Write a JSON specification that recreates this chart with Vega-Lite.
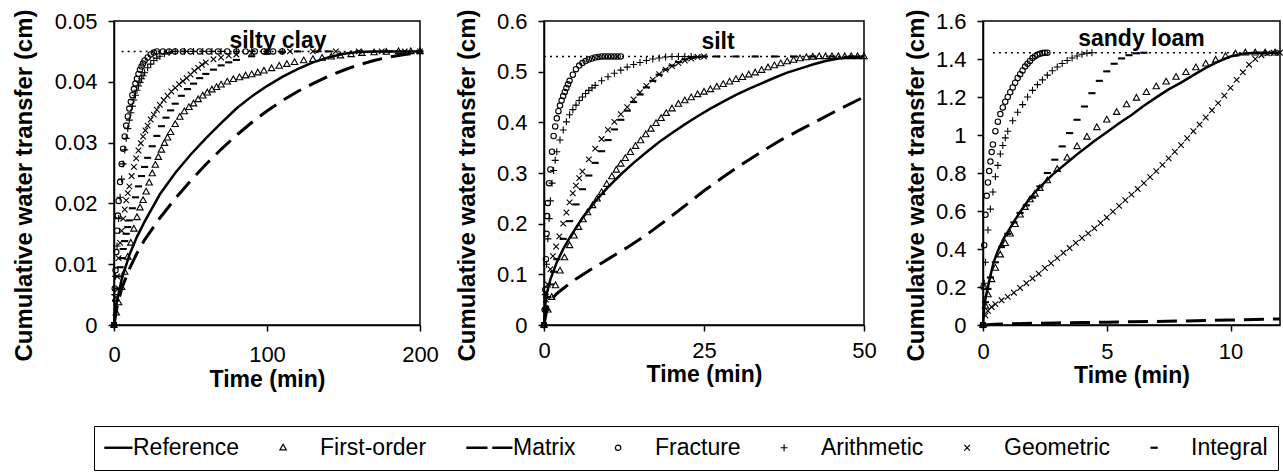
{
"$schema": "https://vega.github.io/schema/vega-lite/v6.json",
"background": "white",
"padding": {"left": 11, "top": 8, "right": 0, "bottom": 0},
"autosize": {"type": "pad"},
"datasets": {
"silty_clay": [
{"series":"Maximum","t":5,"v":0.045},{"series":"Maximum","t":200,"v":0.045},
{"series":"Reference","t":0,"v":0},{"series":"Reference","t":1,"v":0.0028},{"series":"Reference","t":2,"v":0.004},{"series":"Reference","t":5,"v":0.0075},{"series":"Reference","t":10,"v":0.0115},{"series":"Reference","t":15,"v":0.0145},{"series":"Reference","t":20,"v":0.017},{"series":"Reference","t":30,"v":0.0215},{"series":"Reference","t":40,"v":0.025},{"series":"Reference","t":50,"v":0.028},{"series":"Reference","t":60,"v":0.0307},{"series":"Reference","t":70,"v":0.0332},{"series":"Reference","t":80,"v":0.0356},{"series":"Reference","t":90,"v":0.0376},{"series":"Reference","t":100,"v":0.0393},{"series":"Reference","t":110,"v":0.0408},{"series":"Reference","t":120,"v":0.0421},{"series":"Reference","t":130,"v":0.0432},{"series":"Reference","t":140,"v":0.044},{"series":"Reference","t":150,"v":0.0446},{"series":"Reference","t":160,"v":0.0449},{"series":"Reference","t":170,"v":0.045},{"series":"Reference","t":200,"v":0.045},
{"series":"Matrix","t":0,"v":0},{"series":"Matrix","t":2,"v":0.003},{"series":"Matrix","t":5,"v":0.006},{"series":"Matrix","t":10,"v":0.0092},{"series":"Matrix","t":15,"v":0.0118},{"series":"Matrix","t":20,"v":0.014},{"series":"Matrix","t":30,"v":0.0176},{"series":"Matrix","t":40,"v":0.0208},{"series":"Matrix","t":50,"v":0.0237},{"series":"Matrix","t":60,"v":0.0264},{"series":"Matrix","t":70,"v":0.0289},{"series":"Matrix","t":80,"v":0.0312},{"series":"Matrix","t":90,"v":0.0333},{"series":"Matrix","t":100,"v":0.0352},{"series":"Matrix","t":110,"v":0.0369},{"series":"Matrix","t":120,"v":0.0384},{"series":"Matrix","t":130,"v":0.0397},{"series":"Matrix","t":140,"v":0.0409},{"series":"Matrix","t":150,"v":0.0419},{"series":"Matrix","t":160,"v":0.0428},{"series":"Matrix","t":170,"v":0.0435},{"series":"Matrix","t":180,"v":0.0441},{"series":"Matrix","t":190,"v":0.0445},{"series":"Matrix","t":200,"v":0.0448},
{"series":"First-order","t":0,"v":0},{"series":"First-order","t":1.5,"v":0.002},{"series":"First-order","t":3,"v":0.0037},{"series":"First-order","t":5,"v":0.0062},{"series":"First-order","t":7,"v":0.0087},{"series":"First-order","t":9,"v":0.0112},{"series":"First-order","t":11,"v":0.0135},{"series":"First-order","t":13,"v":0.0158},{"series":"First-order","t":15,"v":0.0177},{"series":"First-order","t":17,"v":0.0193},{"series":"First-order","t":19,"v":0.0205},{"series":"First-order","t":21,"v":0.0219},{"series":"First-order","t":23,"v":0.0234},{"series":"First-order","t":25,"v":0.0249},{"series":"First-order","t":27,"v":0.0263},{"series":"First-order","t":29,"v":0.0276},{"series":"First-order","t":31,"v":0.0288},{"series":"First-order","t":33,"v":0.0299},{"series":"First-order","t":35,"v":0.0308},{"series":"First-order","t":37,"v":0.0317},{"series":"First-order","t":40,"v":0.033},{"series":"First-order","t":43,"v":0.0342},{"series":"First-order","t":46,"v":0.0351},{"series":"First-order","t":49,"v":0.0358},{"series":"First-order","t":52,"v":0.0364},{"series":"First-order","t":55,"v":0.0371},{"series":"First-order","t":58,"v":0.0377},{"series":"First-order","t":61,"v":0.0382},{"series":"First-order","t":64,"v":0.0387},{"series":"First-order","t":67,"v":0.0391},{"series":"First-order","t":70,"v":0.0395},{"series":"First-order","t":74,"v":0.04},{"series":"First-order","t":78,"v":0.0404},{"series":"First-order","t":82,"v":0.0407},{"series":"First-order","t":86,"v":0.041},{"series":"First-order","t":90,"v":0.0412},{"series":"First-order","t":94,"v":0.0415},{"series":"First-order","t":98,"v":0.0418},{"series":"First-order","t":103,"v":0.0422},{"series":"First-order","t":108,"v":0.0426},{"series":"First-order","t":113,"v":0.0429},{"series":"First-order","t":118,"v":0.0432},{"series":"First-order","t":124,"v":0.0435},{"series":"First-order","t":130,"v":0.0437},{"series":"First-order","t":136,"v":0.0439},{"series":"First-order","t":142,"v":0.0441},{"series":"First-order","t":148,"v":0.0443},{"series":"First-order","t":155,"v":0.0445},{"series":"First-order","t":162,"v":0.0447},{"series":"First-order","t":170,"v":0.0448},{"series":"First-order","t":178,"v":0.0449},{"series":"First-order","t":186,"v":0.045},{"series":"First-order","t":194,"v":0.045},{"series":"First-order","t":200,"v":0.045},
{"series":"Fracture","t":0,"v":0},{"series":"Fracture","t":0.5,"v":0.006},{"series":"Fracture","t":1,"v":0.009},{"series":"Fracture","t":1.5,"v":0.012},{"series":"Fracture","t":2,"v":0.0155},{"series":"Fracture","t":2.5,"v":0.018},{"series":"Fracture","t":3,"v":0.0204},{"series":"Fracture","t":4,"v":0.0235},{"series":"Fracture","t":5,"v":0.0265},{"series":"Fracture","t":6,"v":0.029},{"series":"Fracture","t":7,"v":0.031},{"series":"Fracture","t":8,"v":0.0328},{"series":"Fracture","t":9,"v":0.0343},{"series":"Fracture","t":10,"v":0.0356},{"series":"Fracture","t":11,"v":0.0367},{"series":"Fracture","t":12,"v":0.0378},{"series":"Fracture","t":13,"v":0.0388},{"series":"Fracture","t":14,"v":0.0397},{"series":"Fracture","t":15,"v":0.0405},{"series":"Fracture","t":16,"v":0.0413},{"series":"Fracture","t":17,"v":0.042},{"series":"Fracture","t":18,"v":0.0425},{"series":"Fracture","t":19,"v":0.043},{"series":"Fracture","t":20,"v":0.0435},{"series":"Fracture","t":22,"v":0.044},{"series":"Fracture","t":24,"v":0.0445},{"series":"Fracture","t":26,"v":0.0448},{"series":"Fracture","t":28,"v":0.045},{"series":"Fracture","t":32,"v":0.045},{"series":"Fracture","t":36,"v":0.045},{"series":"Fracture","t":40,"v":0.045},{"series":"Fracture","t":45,"v":0.045},{"series":"Fracture","t":50,"v":0.045},{"series":"Fracture","t":56,"v":0.045},{"series":"Fracture","t":62,"v":0.045},{"series":"Fracture","t":68,"v":0.045},{"series":"Fracture","t":74,"v":0.045},{"series":"Fracture","t":80,"v":0.045},{"series":"Fracture","t":86,"v":0.045},{"series":"Fracture","t":92,"v":0.045},{"series":"Fracture","t":98,"v":0.045},{"series":"Fracture","t":104,"v":0.045},{"series":"Fracture","t":110,"v":0.045},
{"series":"Arithmetic","t":0,"v":0},{"series":"Arithmetic","t":0.5,"v":0.005},{"series":"Arithmetic","t":1,"v":0.008},{"series":"Arithmetic","t":2,"v":0.013},{"series":"Arithmetic","t":3,"v":0.0175},{"series":"Arithmetic","t":4,"v":0.021},{"series":"Arithmetic","t":5,"v":0.024},{"series":"Arithmetic","t":6,"v":0.0265},{"series":"Arithmetic","t":7,"v":0.0288},{"series":"Arithmetic","t":8,"v":0.0307},{"series":"Arithmetic","t":9,"v":0.0323},{"series":"Arithmetic","t":10,"v":0.0337},{"series":"Arithmetic","t":11,"v":0.0349},{"series":"Arithmetic","t":12,"v":0.036},{"series":"Arithmetic","t":13,"v":0.037},{"series":"Arithmetic","t":14,"v":0.0378},{"series":"Arithmetic","t":15,"v":0.0386},{"series":"Arithmetic","t":16,"v":0.0393},{"series":"Arithmetic","t":17,"v":0.0399},{"series":"Arithmetic","t":18,"v":0.0405},{"series":"Arithmetic","t":19,"v":0.041},{"series":"Arithmetic","t":20,"v":0.0415},{"series":"Arithmetic","t":22,"v":0.0423},{"series":"Arithmetic","t":24,"v":0.0429},{"series":"Arithmetic","t":26,"v":0.0435},{"series":"Arithmetic","t":28,"v":0.0439},{"series":"Arithmetic","t":30,"v":0.0442},{"series":"Arithmetic","t":33,"v":0.0446},{"series":"Arithmetic","t":36,"v":0.0448},{"series":"Arithmetic","t":40,"v":0.045},{"series":"Arithmetic","t":46,"v":0.045},{"series":"Arithmetic","t":52,"v":0.045},{"series":"Arithmetic","t":58,"v":0.045},{"series":"Arithmetic","t":64,"v":0.045},{"series":"Arithmetic","t":70,"v":0.045},{"series":"Arithmetic","t":80,"v":0.045},{"series":"Arithmetic","t":90,"v":0.045},{"series":"Arithmetic","t":100,"v":0.045},{"series":"Arithmetic","t":110,"v":0.045},
{"series":"Geometric","t":0,"v":0},{"series":"Geometric","t":1,"v":0.0045},{"series":"Geometric","t":2,"v":0.008},{"series":"Geometric","t":3,"v":0.011},{"series":"Geometric","t":4,"v":0.0135},{"series":"Geometric","t":5,"v":0.0155},{"series":"Geometric","t":6,"v":0.0175},{"series":"Geometric","t":7,"v":0.019},{"series":"Geometric","t":8,"v":0.0205},{"series":"Geometric","t":9,"v":0.0217},{"series":"Geometric","t":10,"v":0.0228},{"series":"Geometric","t":11.5,"v":0.0245},{"series":"Geometric","t":13,"v":0.026},{"series":"Geometric","t":14.5,"v":0.0274},{"series":"Geometric","t":16,"v":0.0287},{"series":"Geometric","t":17.5,"v":0.0299},{"series":"Geometric","t":19,"v":0.031},{"series":"Geometric","t":20.5,"v":0.032},{"series":"Geometric","t":22,"v":0.0328},{"series":"Geometric","t":24,"v":0.0338},{"series":"Geometric","t":26,"v":0.0346},{"series":"Geometric","t":28,"v":0.0354},{"series":"Geometric","t":30,"v":0.0362},{"series":"Geometric","t":32.5,"v":0.037},{"series":"Geometric","t":35,"v":0.0377},{"series":"Geometric","t":37.5,"v":0.0384},{"series":"Geometric","t":40,"v":0.039},{"series":"Geometric","t":42.5,"v":0.0396},{"series":"Geometric","t":45,"v":0.0401},{"series":"Geometric","t":47.5,"v":0.0406},{"series":"Geometric","t":50,"v":0.0412},{"series":"Geometric","t":52.5,"v":0.0418},{"series":"Geometric","t":55,"v":0.0423},{"series":"Geometric","t":57.5,"v":0.0428},{"series":"Geometric","t":60,"v":0.0432},{"series":"Geometric","t":65,"v":0.0437},{"series":"Geometric","t":70,"v":0.044},{"series":"Geometric","t":75,"v":0.0443},{"series":"Geometric","t":80,"v":0.0445},{"series":"Geometric","t":90,"v":0.0448},{"series":"Geometric","t":100,"v":0.045},{"series":"Geometric","t":115,"v":0.045},{"series":"Geometric","t":130,"v":0.045},{"series":"Geometric","t":145,"v":0.045},{"series":"Geometric","t":160,"v":0.045},{"series":"Geometric","t":175,"v":0.045},{"series":"Geometric","t":190,"v":0.045},{"series":"Geometric","t":200,"v":0.045},
{"series":"Integral","t":1,"v":0.004},{"series":"Integral","t":2,"v":0.006},{"series":"Integral","t":3,"v":0.008},{"series":"Integral","t":4,"v":0.0095},{"series":"Integral","t":5,"v":0.011},{"series":"Integral","t":6,"v":0.0125},{"series":"Integral","t":7,"v":0.0138},{"series":"Integral","t":8,"v":0.015},{"series":"Integral","t":9,"v":0.0161},{"series":"Integral","t":10,"v":0.0172},{"series":"Integral","t":12,"v":0.0192},{"series":"Integral","t":14,"v":0.021},{"series":"Integral","t":16,"v":0.0228},{"series":"Integral","t":18,"v":0.0245},{"series":"Integral","t":20,"v":0.026},{"series":"Integral","t":22,"v":0.0275},{"series":"Integral","t":25,"v":0.0294},{"series":"Integral","t":28,"v":0.0311},{"series":"Integral","t":31,"v":0.0327},{"series":"Integral","t":34,"v":0.0341},{"series":"Integral","t":37,"v":0.0353},{"series":"Integral","t":40,"v":0.0364},{"series":"Integral","t":44,"v":0.0377},{"series":"Integral","t":48,"v":0.0388},{"series":"Integral","t":52,"v":0.0397},{"series":"Integral","t":56,"v":0.0406},{"series":"Integral","t":60,"v":0.0413},{"series":"Integral","t":65,"v":0.042},{"series":"Integral","t":70,"v":0.0427},{"series":"Integral","t":75,"v":0.0432},{"series":"Integral","t":80,"v":0.0436},{"series":"Integral","t":90,"v":0.0442},{"series":"Integral","t":100,"v":0.0446},{"series":"Integral","t":110,"v":0.0449},{"series":"Integral","t":120,"v":0.045},{"series":"Integral","t":140,"v":0.045},{"series":"Integral","t":160,"v":0.045},{"series":"Integral","t":180,"v":0.045},{"series":"Integral","t":200,"v":0.045}
],
"silt": [
{"series":"Maximum","t":0,"v":0.53},{"series":"Maximum","t":50,"v":0.53},
{"series":"Reference","t":0,"v":0},{"series":"Reference","t":0.25,"v":0.045},{"series":"Reference","t":0.5,"v":0.065},{"series":"Reference","t":1,"v":0.09},{"series":"Reference","t":2,"v":0.124},{"series":"Reference","t":3,"v":0.15},{"series":"Reference","t":4,"v":0.172},{"series":"Reference","t":5,"v":0.192},{"series":"Reference","t":6,"v":0.211},{"series":"Reference","t":8,"v":0.244},{"series":"Reference","t":10,"v":0.272},{"series":"Reference","t":12,"v":0.297},{"series":"Reference","t":14,"v":0.32},{"series":"Reference","t":16,"v":0.341},{"series":"Reference","t":18,"v":0.361},{"series":"Reference","t":20,"v":0.379},{"series":"Reference","t":22,"v":0.396},{"series":"Reference","t":24,"v":0.412},{"series":"Reference","t":26,"v":0.427},{"series":"Reference","t":28,"v":0.441},{"series":"Reference","t":30,"v":0.454},{"series":"Reference","t":32,"v":0.466},{"series":"Reference","t":34,"v":0.477},{"series":"Reference","t":36,"v":0.488},{"series":"Reference","t":38,"v":0.498},{"series":"Reference","t":40,"v":0.506},{"series":"Reference","t":42,"v":0.514},{"series":"Reference","t":44,"v":0.521},{"series":"Reference","t":46,"v":0.526},{"series":"Reference","t":48,"v":0.529},{"series":"Reference","t":50,"v":0.53},
{"series":"Matrix","t":0,"v":0},{"series":"Matrix","t":0.5,"v":0.035},{"series":"Matrix","t":1,"v":0.048},{"series":"Matrix","t":2,"v":0.062},{"series":"Matrix","t":3,"v":0.072},{"series":"Matrix","t":4,"v":0.082},{"series":"Matrix","t":5,"v":0.091},{"series":"Matrix","t":7,"v":0.107},{"series":"Matrix","t":10,"v":0.13},{"series":"Matrix","t":13,"v":0.153},{"series":"Matrix","t":16,"v":0.178},{"series":"Matrix","t":19,"v":0.206},{"series":"Matrix","t":22,"v":0.235},{"series":"Matrix","t":25,"v":0.265},{"series":"Matrix","t":28,"v":0.292},{"series":"Matrix","t":31,"v":0.318},{"series":"Matrix","t":34,"v":0.342},{"series":"Matrix","t":37,"v":0.365},{"series":"Matrix","t":40,"v":0.385},{"series":"Matrix","t":43,"v":0.405},{"series":"Matrix","t":46,"v":0.425},{"series":"Matrix","t":50,"v":0.45},
{"series":"First-order","t":0,"v":0},{"series":"First-order","t":0.6,"v":0.03},{"series":"First-order","t":1.2,"v":0.055},{"series":"First-order","t":1.8,"v":0.078},{"series":"First-order","t":2.5,"v":0.107},{"series":"First-order","t":3.2,"v":0.133},{"series":"First-order","t":4,"v":0.157},{"series":"First-order","t":4.7,"v":0.176},{"series":"First-order","t":5.4,"v":0.193},{"series":"First-order","t":6.1,"v":0.208},{"series":"First-order","t":6.8,"v":0.222},{"series":"First-order","t":7.6,"v":0.236},{"series":"First-order","t":8.3,"v":0.249},{"series":"First-order","t":9,"v":0.262},{"series":"First-order","t":9.8,"v":0.278},{"series":"First-order","t":10.6,"v":0.293},{"series":"First-order","t":11.3,"v":0.306},{"series":"First-order","t":12,"v":0.318},{"series":"First-order","t":12.7,"v":0.329},{"series":"First-order","t":13.5,"v":0.341},{"series":"First-order","t":14.3,"v":0.353},{"series":"First-order","t":15.1,"v":0.364},{"series":"First-order","t":15.9,"v":0.376},{"series":"First-order","t":16.7,"v":0.387},{"series":"First-order","t":17.5,"v":0.398},{"series":"First-order","t":18.3,"v":0.408},{"series":"First-order","t":19.1,"v":0.418},{"series":"First-order","t":20,"v":0.427},{"series":"First-order","t":21,"v":0.436},{"series":"First-order","t":22,"v":0.443},{"series":"First-order","t":23,"v":0.449},{"series":"First-order","t":24,"v":0.455},{"series":"First-order","t":25,"v":0.46},{"series":"First-order","t":26,"v":0.465},{"series":"First-order","t":27,"v":0.47},{"series":"First-order","t":28,"v":0.475},{"series":"First-order","t":29,"v":0.48},{"series":"First-order","t":30,"v":0.485},{"series":"First-order","t":31,"v":0.489},{"series":"First-order","t":32,"v":0.494},{"series":"First-order","t":33,"v":0.498},{"series":"First-order","t":34,"v":0.503},{"series":"First-order","t":35,"v":0.508},{"series":"First-order","t":36,"v":0.512},{"series":"First-order","t":37,"v":0.516},{"series":"First-order","t":38,"v":0.52},{"series":"First-order","t":39,"v":0.523},{"series":"First-order","t":40,"v":0.526},{"series":"First-order","t":41,"v":0.528},{"series":"First-order","t":42,"v":0.529},{"series":"First-order","t":43,"v":0.53},{"series":"First-order","t":44,"v":0.53},{"series":"First-order","t":45,"v":0.53},{"series":"First-order","t":46,"v":0.53},{"series":"First-order","t":47,"v":0.53},{"series":"First-order","t":48,"v":0.53},{"series":"First-order","t":49,"v":0.53},{"series":"First-order","t":50,"v":0.53},
{"series":"Fracture","t":0,"v":0},{"series":"Fracture","t":0.1,"v":0.03},{"series":"Fracture","t":0.2,"v":0.07},{"series":"Fracture","t":0.3,"v":0.13},{"series":"Fracture","t":0.4,"v":0.18},{"series":"Fracture","t":0.5,"v":0.215},{"series":"Fracture","t":0.6,"v":0.241},{"series":"Fracture","t":0.8,"v":0.28},{"series":"Fracture","t":1,"v":0.307},{"series":"Fracture","t":1.25,"v":0.342},{"series":"Fracture","t":1.5,"v":0.373},{"series":"Fracture","t":1.75,"v":0.392},{"series":"Fracture","t":2,"v":0.408},{"series":"Fracture","t":2.25,"v":0.422},{"series":"Fracture","t":2.5,"v":0.433},{"series":"Fracture","t":2.75,"v":0.443},{"series":"Fracture","t":3,"v":0.452},{"series":"Fracture","t":3.25,"v":0.46},{"series":"Fracture","t":3.5,"v":0.468},{"series":"Fracture","t":3.75,"v":0.475},{"series":"Fracture","t":4,"v":0.482},{"series":"Fracture","t":4.5,"v":0.494},{"series":"Fracture","t":5,"v":0.505},{"series":"Fracture","t":5.5,"v":0.512},{"series":"Fracture","t":6,"v":0.517},{"series":"Fracture","t":6.5,"v":0.521},{"series":"Fracture","t":7,"v":0.524},{"series":"Fracture","t":7.5,"v":0.526},{"series":"Fracture","t":8,"v":0.528},{"series":"Fracture","t":8.5,"v":0.529},{"series":"Fracture","t":9,"v":0.53},{"series":"Fracture","t":9.5,"v":0.53},{"series":"Fracture","t":10,"v":0.53},{"series":"Fracture","t":10.5,"v":0.53},{"series":"Fracture","t":11,"v":0.53},{"series":"Fracture","t":11.5,"v":0.53},{"series":"Fracture","t":12,"v":0.53},
{"series":"Arithmetic","t":0,"v":0},{"series":"Arithmetic","t":0.2,"v":0.06},{"series":"Arithmetic","t":0.4,"v":0.12},{"series":"Arithmetic","t":0.6,"v":0.17},{"series":"Arithmetic","t":0.8,"v":0.21},{"series":"Arithmetic","t":1,"v":0.245},{"series":"Arithmetic","t":1.25,"v":0.28},{"series":"Arithmetic","t":1.5,"v":0.305},{"series":"Arithmetic","t":1.75,"v":0.325},{"series":"Arithmetic","t":2,"v":0.342},{"series":"Arithmetic","t":2.5,"v":0.365},{"series":"Arithmetic","t":3,"v":0.385},{"series":"Arithmetic","t":3.5,"v":0.401},{"series":"Arithmetic","t":4,"v":0.415},{"series":"Arithmetic","t":4.5,"v":0.425},{"series":"Arithmetic","t":5,"v":0.434},{"series":"Arithmetic","t":5.5,"v":0.443},{"series":"Arithmetic","t":6,"v":0.45},{"series":"Arithmetic","t":6.5,"v":0.457},{"series":"Arithmetic","t":7,"v":0.463},{"series":"Arithmetic","t":7.5,"v":0.468},{"series":"Arithmetic","t":8,"v":0.473},{"series":"Arithmetic","t":9,"v":0.482},{"series":"Arithmetic","t":10,"v":0.49},{"series":"Arithmetic","t":11,"v":0.497},{"series":"Arithmetic","t":12,"v":0.503},{"series":"Arithmetic","t":13,"v":0.509},{"series":"Arithmetic","t":14,"v":0.514},{"series":"Arithmetic","t":15,"v":0.518},{"series":"Arithmetic","t":16,"v":0.522},{"series":"Arithmetic","t":17,"v":0.525},{"series":"Arithmetic","t":18,"v":0.527},{"series":"Arithmetic","t":19,"v":0.529},{"series":"Arithmetic","t":20,"v":0.53},{"series":"Arithmetic","t":21,"v":0.53},{"series":"Arithmetic","t":22,"v":0.53},{"series":"Arithmetic","t":23,"v":0.53},
{"series":"Geometric","t":0,"v":0},{"series":"Geometric","t":0.3,"v":0.05},{"series":"Geometric","t":0.6,"v":0.08},{"series":"Geometric","t":1,"v":0.11},{"series":"Geometric","t":1.4,"v":0.136},{"series":"Geometric","t":1.9,"v":0.155},{"series":"Geometric","t":2.4,"v":0.175},{"series":"Geometric","t":3,"v":0.2},{"series":"Geometric","t":3.5,"v":0.222},{"series":"Geometric","t":4,"v":0.242},{"series":"Geometric","t":4.5,"v":0.26},{"series":"Geometric","t":5,"v":0.275},{"series":"Geometric","t":5.5,"v":0.29},{"series":"Geometric","t":6,"v":0.303},{"series":"Geometric","t":7,"v":0.327},{"series":"Geometric","t":8,"v":0.348},{"series":"Geometric","t":9,"v":0.367},{"series":"Geometric","t":10,"v":0.385},{"series":"Geometric","t":11,"v":0.401},{"series":"Geometric","t":12,"v":0.416},{"series":"Geometric","t":13,"v":0.43},{"series":"Geometric","t":14,"v":0.445},{"series":"Geometric","t":15,"v":0.459},{"series":"Geometric","t":16,"v":0.472},{"series":"Geometric","t":17,"v":0.484},{"series":"Geometric","t":18,"v":0.495},{"series":"Geometric","t":19,"v":0.504},{"series":"Geometric","t":20,"v":0.511},{"series":"Geometric","t":21,"v":0.517},{"series":"Geometric","t":22,"v":0.522},{"series":"Geometric","t":23,"v":0.526},{"series":"Geometric","t":24,"v":0.529},{"series":"Geometric","t":25,"v":0.53},
{"series":"Integral","t":0.3,"v":0.03},{"series":"Integral","t":0.6,"v":0.055},{"series":"Integral","t":1,"v":0.08},{"series":"Integral","t":1.5,"v":0.105},{"series":"Integral","t":2,"v":0.13},{"series":"Integral","t":3,"v":0.17},{"series":"Integral","t":4,"v":0.205},{"series":"Integral","t":5,"v":0.238},{"series":"Integral","t":6,"v":0.268},{"series":"Integral","t":7,"v":0.295},{"series":"Integral","t":8,"v":0.32},{"series":"Integral","t":9,"v":0.343},{"series":"Integral","t":10,"v":0.365},{"series":"Integral","t":11,"v":0.386},{"series":"Integral","t":12,"v":0.405},{"series":"Integral","t":13,"v":0.423},{"series":"Integral","t":14,"v":0.44},{"series":"Integral","t":15,"v":0.455},{"series":"Integral","t":16,"v":0.469},{"series":"Integral","t":17,"v":0.482},{"series":"Integral","t":18,"v":0.494},{"series":"Integral","t":19,"v":0.504},{"series":"Integral","t":20,"v":0.512},{"series":"Integral","t":21,"v":0.519},{"series":"Integral","t":22,"v":0.524},{"series":"Integral","t":23,"v":0.527},{"series":"Integral","t":24,"v":0.529},{"series":"Integral","t":25,"v":0.53},{"series":"Integral","t":27,"v":0.53},{"series":"Integral","t":30,"v":0.53},{"series":"Integral","t":33,"v":0.53},{"series":"Integral","t":36,"v":0.53},{"series":"Integral","t":39,"v":0.53},{"series":"Integral","t":42,"v":0.53},{"series":"Integral","t":45,"v":0.53},{"series":"Integral","t":48,"v":0.53}
],
"sandy_loam": [
{"series":"Maximum","t":0.4,"v":1.433},{"series":"Maximum","t":12,"v":1.433},
{"series":"Reference","t":0,"v":0},{"series":"Reference","t":0.05,"v":0.09},{"series":"Reference","t":0.1,"v":0.14},{"series":"Reference","t":0.2,"v":0.2},{"series":"Reference","t":0.3,"v":0.26},{"series":"Reference","t":0.43,"v":0.33},{"series":"Reference","t":0.6,"v":0.39},{"series":"Reference","t":0.84,"v":0.456},{"series":"Reference","t":1,"v":0.49},{"series":"Reference","t":1.25,"v":0.544},{"series":"Reference","t":1.5,"v":0.595},{"series":"Reference","t":1.8,"v":0.65},{"series":"Reference","t":2.1,"v":0.7},{"series":"Reference","t":2.46,"v":0.747},{"series":"Reference","t":2.8,"v":0.79},{"series":"Reference","t":3.14,"v":0.827},{"series":"Reference","t":3.5,"v":0.866},{"series":"Reference","t":3.8,"v":0.898},{"series":"Reference","t":4.2,"v":0.938},{"series":"Reference","t":4.5,"v":0.968},{"series":"Reference","t":5,"v":1.015},{"series":"Reference","t":5.5,"v":1.062},{"series":"Reference","t":6,"v":1.105},{"series":"Reference","t":6.5,"v":1.154},{"series":"Reference","t":7,"v":1.198},{"series":"Reference","t":7.5,"v":1.24},{"series":"Reference","t":8,"v":1.276},{"series":"Reference","t":8.5,"v":1.315},{"series":"Reference","t":9,"v":1.353},{"series":"Reference","t":9.5,"v":1.386},{"series":"Reference","t":10,"v":1.413},{"series":"Reference","t":10.5,"v":1.428},{"series":"Reference","t":11,"v":1.433},{"series":"Reference","t":12,"v":1.433},
{"series":"Matrix","t":0,"v":0},{"series":"Matrix","t":0.5,"v":0.004},{"series":"Matrix","t":1,"v":0.006},{"series":"Matrix","t":2,"v":0.009},{"series":"Matrix","t":3,"v":0.011},{"series":"Matrix","t":4,"v":0.013},{"series":"Matrix","t":5,"v":0.015},{"series":"Matrix","t":6,"v":0.017},{"series":"Matrix","t":7,"v":0.019},{"series":"Matrix","t":8,"v":0.021},{"series":"Matrix","t":9,"v":0.024},{"series":"Matrix","t":10,"v":0.026},{"series":"Matrix","t":11,"v":0.029},{"series":"Matrix","t":12,"v":0.032},
{"series":"First-order","t":0,"v":0},{"series":"First-order","t":0.1,"v":0.1},{"series":"First-order","t":0.2,"v":0.16},{"series":"First-order","t":0.35,"v":0.24},{"series":"First-order","t":0.5,"v":0.3},{"series":"First-order","t":0.7,"v":0.37},{"series":"First-order","t":0.9,"v":0.43},{"series":"First-order","t":1.1,"v":0.48},{"series":"First-order","t":1.3,"v":0.53},{"series":"First-order","t":1.5,"v":0.58},{"series":"First-order","t":1.7,"v":0.62},{"series":"First-order","t":1.9,"v":0.66},{"series":"First-order","t":2.1,"v":0.69},{"series":"First-order","t":2.3,"v":0.72},{"series":"First-order","t":2.6,"v":0.76},{"series":"First-order","t":3,"v":0.82},{"series":"First-order","t":3.4,"v":0.88},{"series":"First-order","t":3.8,"v":0.94},{"series":"First-order","t":4.2,"v":0.99},{"series":"First-order","t":4.6,"v":1.04},{"series":"First-order","t":5,"v":1.08},{"series":"First-order","t":5.4,"v":1.12},{"series":"First-order","t":5.8,"v":1.16},{"series":"First-order","t":6.2,"v":1.195},{"series":"First-order","t":6.6,"v":1.225},{"series":"First-order","t":7,"v":1.255},{"series":"First-order","t":7.4,"v":1.28},{"series":"First-order","t":7.8,"v":1.305},{"series":"First-order","t":8.2,"v":1.33},{"series":"First-order","t":8.6,"v":1.355},{"series":"First-order","t":9,"v":1.375},{"series":"First-order","t":9.4,"v":1.395},{"series":"First-order","t":9.8,"v":1.415},{"series":"First-order","t":10.2,"v":1.428},{"series":"First-order","t":10.6,"v":1.433},{"series":"First-order","t":11,"v":1.433},{"series":"First-order","t":11.4,"v":1.433},{"series":"First-order","t":11.8,"v":1.433},
{"series":"Fracture","t":0,"v":0},{"series":"Fracture","t":0.02,"v":0.2},{"series":"Fracture","t":0.05,"v":0.42},{"series":"Fracture","t":0.1,"v":0.58},{"series":"Fracture","t":0.15,"v":0.68},{"series":"Fracture","t":0.2,"v":0.75},{"series":"Fracture","t":0.25,"v":0.81},{"series":"Fracture","t":0.3,"v":0.86},{"series":"Fracture","t":0.35,"v":0.91},{"series":"Fracture","t":0.4,"v":0.95},{"series":"Fracture","t":0.5,"v":1.02},{"series":"Fracture","t":0.6,"v":1.07},{"series":"Fracture","t":0.7,"v":1.11},{"series":"Fracture","t":0.8,"v":1.145},{"series":"Fracture","t":0.9,"v":1.175},{"series":"Fracture","t":1,"v":1.2},{"series":"Fracture","t":1.1,"v":1.225},{"series":"Fracture","t":1.2,"v":1.25},{"series":"Fracture","t":1.3,"v":1.275},{"series":"Fracture","t":1.4,"v":1.3},{"series":"Fracture","t":1.5,"v":1.32},{"series":"Fracture","t":1.6,"v":1.34},{"series":"Fracture","t":1.7,"v":1.36},{"series":"Fracture","t":1.8,"v":1.375},{"series":"Fracture","t":1.9,"v":1.39},{"series":"Fracture","t":2,"v":1.405},{"series":"Fracture","t":2.1,"v":1.415},{"series":"Fracture","t":2.2,"v":1.423},{"series":"Fracture","t":2.3,"v":1.428},{"series":"Fracture","t":2.4,"v":1.431},{"series":"Fracture","t":2.5,"v":1.433},{"series":"Fracture","t":2.6,"v":1.433},
{"series":"Arithmetic","t":0,"v":0},{"series":"Arithmetic","t":0.05,"v":0.22},{"series":"Arithmetic","t":0.1,"v":0.33},{"series":"Arithmetic","t":0.2,"v":0.5},{"series":"Arithmetic","t":0.3,"v":0.61},{"series":"Arithmetic","t":0.4,"v":0.7},{"series":"Arithmetic","t":0.5,"v":0.78},{"series":"Arithmetic","t":0.6,"v":0.84},{"series":"Arithmetic","t":0.7,"v":0.9},{"series":"Arithmetic","t":0.8,"v":0.945},{"series":"Arithmetic","t":0.9,"v":0.985},{"series":"Arithmetic","t":1,"v":1.02},{"series":"Arithmetic","t":1.2,"v":1.075},{"series":"Arithmetic","t":1.4,"v":1.12},{"series":"Arithmetic","t":1.6,"v":1.16},{"series":"Arithmetic","t":1.8,"v":1.2},{"series":"Arithmetic","t":2,"v":1.235},{"series":"Arithmetic","t":2.2,"v":1.265},{"series":"Arithmetic","t":2.4,"v":1.29},{"series":"Arithmetic","t":2.6,"v":1.315},{"series":"Arithmetic","t":2.8,"v":1.338},{"series":"Arithmetic","t":3,"v":1.358},{"series":"Arithmetic","t":3.2,"v":1.376},{"series":"Arithmetic","t":3.4,"v":1.392},{"series":"Arithmetic","t":3.6,"v":1.405},{"series":"Arithmetic","t":3.8,"v":1.416},{"series":"Arithmetic","t":4,"v":1.425},{"series":"Arithmetic","t":4.2,"v":1.431},{"series":"Arithmetic","t":4.4,"v":1.433},
{"series":"Geometric","t":0,"v":0},{"series":"Geometric","t":0.1,"v":0.05},{"series":"Geometric","t":0.2,"v":0.075},{"series":"Geometric","t":0.35,"v":0.095},{"series":"Geometric","t":0.5,"v":0.11},{"series":"Geometric","t":0.75,"v":0.13},{"series":"Geometric","t":1,"v":0.148},{"series":"Geometric","t":1.25,"v":0.17},{"series":"Geometric","t":1.5,"v":0.195},{"series":"Geometric","t":1.75,"v":0.22},{"series":"Geometric","t":2,"v":0.245},{"series":"Geometric","t":2.25,"v":0.27},{"series":"Geometric","t":2.5,"v":0.3},{"series":"Geometric","t":2.75,"v":0.325},{"series":"Geometric","t":3,"v":0.352},{"series":"Geometric","t":3.25,"v":0.38},{"series":"Geometric","t":3.5,"v":0.405},{"series":"Geometric","t":3.75,"v":0.432},{"series":"Geometric","t":4,"v":0.458},{"series":"Geometric","t":4.25,"v":0.482},{"series":"Geometric","t":4.5,"v":0.509},{"series":"Geometric","t":4.75,"v":0.537},{"series":"Geometric","t":5,"v":0.566},{"series":"Geometric","t":5.25,"v":0.597},{"series":"Geometric","t":5.5,"v":0.627},{"series":"Geometric","t":5.75,"v":0.657},{"series":"Geometric","t":6,"v":0.686},{"series":"Geometric","t":6.25,"v":0.716},{"series":"Geometric","t":6.5,"v":0.747},{"series":"Geometric","t":6.75,"v":0.778},{"series":"Geometric","t":7,"v":0.81},{"series":"Geometric","t":7.25,"v":0.843},{"series":"Geometric","t":7.5,"v":0.877},{"series":"Geometric","t":7.75,"v":0.912},{"series":"Geometric","t":8,"v":0.947},{"series":"Geometric","t":8.25,"v":0.983},{"series":"Geometric","t":8.5,"v":1.02},{"series":"Geometric","t":8.75,"v":1.055},{"series":"Geometric","t":9,"v":1.092},{"series":"Geometric","t":9.25,"v":1.13},{"series":"Geometric","t":9.5,"v":1.168},{"series":"Geometric","t":9.75,"v":1.207},{"series":"Geometric","t":10,"v":1.248},{"series":"Geometric","t":10.25,"v":1.29},{"series":"Geometric","t":10.5,"v":1.33},{"series":"Geometric","t":10.75,"v":1.37},{"series":"Geometric","t":11,"v":1.4},{"series":"Geometric","t":11.25,"v":1.42},{"series":"Geometric","t":11.5,"v":1.43},{"series":"Geometric","t":11.75,"v":1.433},{"series":"Geometric","t":12,"v":1.433},
{"series":"Integral","t":0,"v":0},{"series":"Integral","t":0.1,"v":0.12},{"series":"Integral","t":0.2,"v":0.19},{"series":"Integral","t":0.3,"v":0.25},{"series":"Integral","t":0.5,"v":0.33},{"series":"Integral","t":0.75,"v":0.41},{"series":"Integral","t":1,"v":0.48},{"series":"Integral","t":1.25,"v":0.54},{"series":"Integral","t":1.5,"v":0.59},{"series":"Integral","t":1.75,"v":0.63},{"series":"Integral","t":2,"v":0.67},{"series":"Integral","t":2.3,"v":0.73},{"series":"Integral","t":2.6,"v":0.8},{"series":"Integral","t":2.9,"v":0.87},{"series":"Integral","t":3.2,"v":0.94},{"series":"Integral","t":3.5,"v":1.01},{"series":"Integral","t":3.8,"v":1.08},{"series":"Integral","t":4.1,"v":1.15},{"series":"Integral","t":4.4,"v":1.22},{"series":"Integral","t":4.7,"v":1.285},{"series":"Integral","t":5,"v":1.335},{"series":"Integral","t":5.3,"v":1.375},{"series":"Integral","t":5.6,"v":1.403},{"series":"Integral","t":5.9,"v":1.42},{"series":"Integral","t":6.2,"v":1.43},{"series":"Integral","t":6.5,"v":1.433}
]
},
"spacing": 26,
"hconcat": [
{
"spacing": 14,
"resolve": {"scale": {"shape": "shared"}, "legend": {"shape": "shared"}},
"hconcat": [
{
"width": 306, "height": 304,
"layer": [
{
"encoding": {
"x": {"field": "t", "type": "quantitative", "scale": {"domain": [0, 200], "nice": false}, "axis": {"values": [0, 100, 200], "title": "Time (min)", "labelPadding": 13, "titlePadding": 3}},
"y": {"field": "v", "type": "quantitative", "scale": {"domain": [0, 0.05], "nice": false}, "axis": {"values": [0, 0.01, 0.02, 0.03, 0.04, 0.05], "format": "~g", "title": "Cumulative water transfer (cm)", "titleX": -78, "titleY": 164}}
},
"layer": [
{"data": {"name": "silty_clay"}, "transform": [{"filter": "datum.series === 'Maximum'"}], "mark": {"type": "line", "color": "black", "strokeWidth": 1.5, "strokeDash": [2, 4]}},
{"data": {"name": "silty_clay"}, "transform": [{"filter": "datum.series === 'Matrix'"}], "mark": {"type": "line", "color": "black", "strokeWidth": 3, "strokeDash": [20, 9]}},
{"data": {"name": "silty_clay"}, "transform": [{"filter": "datum.series === 'Reference'"}], "mark": {"type": "line", "color": "black", "strokeWidth": 2.5}},
{"data": {"name": "silty_clay"}, "transform": [{"filter": {"field": "series", "oneOf": ["First-order", "Fracture", "Arithmetic", "Geometric", "Integral"]}}],
 "mark": {"type": "point", "filled": false, "color": "black", "size": 400, "strokeWidth": 1.1, "opacity": 1, "xOffset": 19.4},
 "encoding": {"shape": {"field": "series", "type": "nominal",
   "scale": {"domain": ["Reference", "First-order", "Matrix", "Fracture", "Arithmetic", "Geometric", "Integral"],
             "range": ["M-1.06,-0.06H1.64V0.06H-1.06Z", "M-1.94,-0.35L-1.62,0.22L-2.26,0.22Z", "M-2.86,-0.06H-0.86V0.06H-2.86ZM-0.26,-0.06H1.64V0.06H-0.26Z", "M-1.67,0A0.27,0.27,0,1,1,-2.21,0A0.27,0.27,0,1,1,-1.67,0Z", "M-2.29,0H-1.59M-1.94,-0.35V0.35", "M-2.22,-0.28L-1.66,0.28M-2.22,0.28L-1.66,-0.28", "M-2.24,-0.05H-1.64V0.05H-2.24Z"]},
   "legend": {"title": null, "orient": "none", "legendX": -20, "legendY": 405, "direction": "horizontal", "columns": 7}}}}
]
},
{"data": {"values": [{"label": "silty clay"}]}, "mark": {"type": "text", "font": "Liberation Sans", "fontSize": 23, "fontWeight": "bold", "baseline": "alphabetic", "align": "center", "dx": 11, "dy": 27, "color": "black"},
 "encoding": {
  "x": {"datum": 100, "type": "quantitative", "scale": {"domain": [0, 200], "nice": false}, "axis": {"values": [0, 100, 200], "title": "Time (min)", "labelPadding": 13, "titlePadding": 3}},
  "y": {"datum": 0.05, "type": "quantitative", "scale": {"domain": [0, 0.05], "nice": false}, "axis": {"values": [0, 0.01, 0.02, 0.03, 0.04, 0.05], "format": "~g", "title": "Cumulative water transfer (cm)", "titleX": -78, "titleY": 164}},
  "text": {"field": "label", "type": "nominal"}}}
]
},
{
"width": 320, "height": 304,
"layer": [
{
"encoding": {
"x": {"field": "t", "type": "quantitative", "scale": {"domain": [0, 50], "nice": false}, "axis": {"values": [0, 25, 50], "title": "Time (min)", "labelPadding": 9, "titlePadding": 2}},
"y": {"field": "v", "type": "quantitative", "scale": {"domain": [0, 0.6], "nice": false}, "axis": {"values": [0, 0.1, 0.2, 0.3, 0.4, 0.5, 0.6], "format": "~g", "title": "Cumulative water transfer (cm)", "titleX": -65, "titleY": 164}}
},
"layer": [
{"data": {"name": "silt"}, "transform": [{"filter": "datum.series === 'Maximum'"}], "mark": {"type": "line", "color": "black", "strokeWidth": 1.5, "strokeDash": [2, 4]}},
{"data": {"name": "silt"}, "transform": [{"filter": "datum.series === 'Matrix'"}], "mark": {"type": "line", "color": "black", "strokeWidth": 3, "strokeDash": [20, 9]}},
{"data": {"name": "silt"}, "transform": [{"filter": "datum.series === 'Reference'"}], "mark": {"type": "line", "color": "black", "strokeWidth": 2.5}},
{"data": {"name": "silt"}, "transform": [{"filter": {"field": "series", "oneOf": ["First-order", "Fracture", "Arithmetic", "Geometric", "Integral"]}}],
 "mark": {"type": "point", "filled": false, "color": "black", "size": 400, "strokeWidth": 1.1, "opacity": 1, "xOffset": 19.4},
 "encoding": {"shape": {"field": "series", "type": "nominal",
   "scale": {"domain": ["Reference", "First-order", "Matrix", "Fracture", "Arithmetic", "Geometric", "Integral"],
             "range": ["M-1.06,-0.06H1.64V0.06H-1.06Z", "M-1.94,-0.35L-1.62,0.22L-2.26,0.22Z", "M-2.86,-0.06H-0.86V0.06H-2.86ZM-0.26,-0.06H1.64V0.06H-0.26Z", "M-1.67,0A0.27,0.27,0,1,1,-2.21,0A0.27,0.27,0,1,1,-1.67,0Z", "M-2.29,0H-1.59M-1.94,-0.35V0.35", "M-2.22,-0.28L-1.66,0.28M-2.22,0.28L-1.66,-0.28", "M-2.24,-0.05H-1.64V0.05H-2.24Z"]},
   "legend": {"title": null, "orient": "none", "legendX": -20, "legendY": 405, "direction": "horizontal", "columns": 7}}}}
]
},
{"data": {"values": [{"label": "silt"}]}, "mark": {"type": "text", "font": "Liberation Sans", "fontSize": 23, "fontWeight": "bold", "baseline": "alphabetic", "align": "center", "dx": 14, "dy": 28, "color": "black"},
 "encoding": {
  "x": {"datum": 25, "type": "quantitative", "scale": {"domain": [0, 50], "nice": false}, "axis": {"values": [0, 25, 50], "title": "Time (min)", "labelPadding": 9, "titlePadding": 2}},
  "y": {"datum": 0.6, "type": "quantitative", "scale": {"domain": [0, 0.6], "nice": false}, "axis": {"values": [0, 0.1, 0.2, 0.3, 0.4, 0.5, 0.6], "format": "~g", "title": "Cumulative water transfer (cm)", "titleX": -65, "titleY": 164}},
  "text": {"field": "label", "type": "nominal"}}}
]
}
]
},
{
"width": 297, "height": 304,
"layer": [
{
"encoding": {
"x": {"field": "t", "type": "quantitative", "scale": {"domain": [0, 12], "nice": false}, "axis": {"values": [0, 5, 10], "title": "Time (min)", "labelPadding": 10, "titlePadding": 2}},
"y": {"field": "v", "type": "quantitative", "scale": {"domain": [0, 1.6], "nice": false}, "axis": {"values": [0, 0.2, 0.4, 0.6, 0.8, 1, 1.2, 1.4, 1.6], "format": "~g", "title": "Cumulative water transfer (cm)", "titleX": -55, "titleY": 164}}
},
"layer": [
{"data": {"name": "sandy_loam"}, "transform": [{"filter": "datum.series === 'Maximum'"}], "mark": {"type": "line", "color": "black", "strokeWidth": 1.5, "strokeDash": [2, 4]}},
{"data": {"name": "sandy_loam"}, "transform": [{"filter": "datum.series === 'Matrix'"}], "mark": {"type": "line", "color": "black", "strokeWidth": 3, "strokeDash": [20, 9]}},
{"data": {"name": "sandy_loam"}, "transform": [{"filter": "datum.series === 'Reference'"}], "mark": {"type": "line", "color": "black", "strokeWidth": 2.5}},
{"data": {"name": "sandy_loam"}, "transform": [{"filter": {"field": "series", "oneOf": ["First-order", "Fracture", "Arithmetic", "Geometric", "Integral"]}}],
 "mark": {"type": "point", "filled": false, "color": "black", "size": 400, "strokeWidth": 1.1, "opacity": 1, "xOffset": 19.4},
 "encoding": {"shape": {"field": "series", "type": "nominal",
   "scale": {"domain": ["Reference", "First-order", "Matrix", "Fracture", "Arithmetic", "Geometric", "Integral"],
             "range": ["M-1.06,-0.06H1.64V0.06H-1.06Z", "M-1.94,-0.35L-1.62,0.22L-2.26,0.22Z", "M-2.86,-0.06H-0.86V0.06H-2.86ZM-0.26,-0.06H1.64V0.06H-0.26Z", "M-1.67,0A0.27,0.27,0,1,1,-2.21,0A0.27,0.27,0,1,1,-1.67,0Z", "M-2.29,0H-1.59M-1.94,-0.35V0.35", "M-2.22,-0.28L-1.66,0.28M-2.22,0.28L-1.66,-0.28", "M-2.24,-0.05H-1.64V0.05H-2.24Z"]},
   "legend": {"title": null, "orient": "none", "legendX": -20, "legendY": 405, "direction": "horizontal", "columns": 7}}}}
]
},
{"data": {"values": [{"label": "sandy loam"}]}, "mark": {"type": "text", "font": "Liberation Sans", "fontSize": 23, "fontWeight": "bold", "baseline": "alphabetic", "align": "center", "dx": 10, "dy": 25, "color": "black"},
 "encoding": {
  "x": {"datum": 6, "type": "quantitative", "scale": {"domain": [0, 12], "nice": false}, "axis": {"values": [0, 5, 10], "title": "Time (min)", "labelPadding": 10, "titlePadding": 2}},
  "y": {"datum": 1.6, "type": "quantitative", "scale": {"domain": [0, 1.6], "nice": false}, "axis": {"values": [0, 0.2, 0.4, 0.6, 0.8, 1, 1.2, 1.4, 1.6], "format": "~g", "title": "Cumulative water transfer (cm)", "titleX": -55, "titleY": 164}},
  "text": {"field": "label", "type": "nominal"}}}
]
}
],
"resolve": {"scale": {"shape": "shared"}, "legend": {"shape": "shared"}},
"config": {
"font": "Liberation Sans",
"view": {"stroke": "black", "strokeWidth": 1.5},
"axis": {"grid": false, "domainColor": "black", "domainWidth": 1.5, "tickColor": "black", "tickWidth": 1.5, "tickSize": 6, "labelFont": "Liberation Sans", "labelFontSize": 22, "labelColor": "black", "titleFont": "Liberation Sans", "titleFontSize": 23, "titleFontWeight": "bold", "titleColor": "black", "labelPadding": 11},
"axisY": {"titleFontSize": 24},
"axisX": {"labelFlush": false},
"legend": {"labelFont": "Liberation Sans", "labelFontSize": 23, "labelColor": "black", "labelOffset": 6, "columnPadding": 37, "symbolSize": 400, "symbolStrokeWidth": 1.2, "symbolStrokeColor": "black", "symbolFillColor": "transparent", "strokeColor": "black", "padding": 10, "labelLimit": 400}
}
}
